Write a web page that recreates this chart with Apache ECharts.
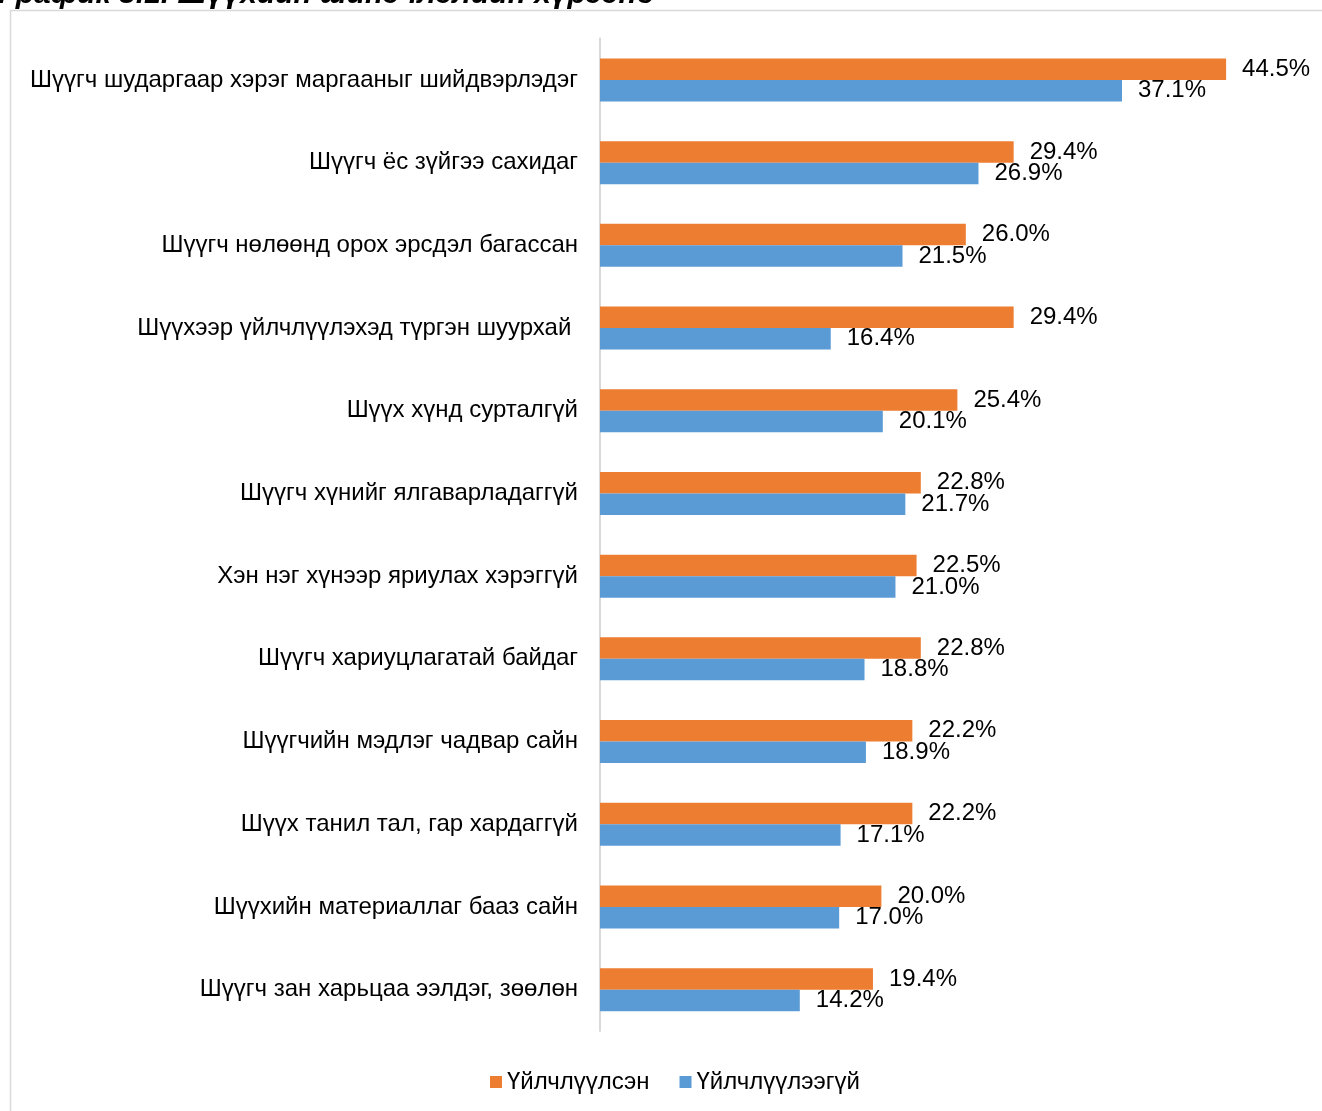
<!DOCTYPE html>
<html>
<head>
<meta charset="utf-8">
<script src="https://cdn.jsdelivr.net/npm/echarts@6/dist/echarts.min.js"></script>
<style>html,body{margin:0;padding:0;background:#fff;}#c{width:1322px;height:1111px;}</style>
</head>
<body>
<div id="c"></div>
<script>
const titleText = 'График 3.1. Шүүхийн шинэчлэлийн хүрээнд';
const categories = [
  'Шүүгч шударгаар хэрэг маргааныг шийдвэрлэдэг',
  'Шүүгч ёс зүйгээ сахидаг',
  'Шүүгч нөлөөнд орох эрсдэл багассан',
  'Шүүхээр үйлчлүүлэхэд түргэн шуурхай ',
  'Шүүх хүнд сурталгүй',
  'Шүүгч хүнийг ялгаварладаггүй',
  'Хэн нэг хүнээр яриулах хэрэггүй',
  'Шүүгч хариуцлагатай байдаг',
  'Шүүгчийн мэдлэг чадвар сайн',
  'Шүүх танил тал, гар хардаггүй',
  'Шүүхийн материаллаг бааз сайн',
  'Шүүгч зан харьцаа ээлдэг, зөөлөн'
];
const seriesNames = ['Үйлчлүүлсэн', 'Үйлчлүүлээгүй'];
const usedValues = [44.5, 29.4, 26.0, 29.4, 25.4, 22.8, 22.5, 22.8, 22.2, 22.2, 20.0, 19.4];
const notUsedValues = [37.1, 26.9, 21.5, 16.4, 20.1, 21.7, 21.0, 18.8, 18.9, 17.1, 17.0, 14.2];

const chart = echarts.init(document.getElementById('c'), null, {renderer: 'canvas'});
const FONT = 'Liberation Sans, Arial, sans-serif';
const labelCfg = {
  show: true, position: 'right', distance: 16,
  formatter: p => p.value.toFixed(1) + '%',
  color: '#000', fontSize: 24, fontFamily: FONT
};
chart.setOption({
  animation: false,
  textStyle: {fontFamily: FONT},
  graphic: [
    {type: 'rect', shape: {x: 10.5, y: 10.5, width: 1330, height: 1120}, style: {fill: 'none', stroke: '#d9d9d9', lineWidth: 1.5}, silent: true},
    {type: 'text', x: -2, y: -5, style: {text: titleText, font: 'italic bold 30px ' + FONT, fill: '#000', verticalAlign: 'middle'}, silent: true}
  ],
  legend: {
    bottom: 12, left: 485,
    itemWidth: 12, itemHeight: 12, itemGap: 30,
    icon: 'rect',
    textStyle: {fontSize: 24, color: '#000', fontFamily: FONT},
    data: seriesNames
  },
  grid: {left: 600, top: 38.6, width: 703.5, height: 992.4, containLabel: false},
  xAxis: {
    type: 'value', min: 0, max: 50, show: false
  },
  yAxis: {
    type: 'category', inverse: true, data: categories,
    axisLine: {show: true, lineStyle: {color: '#d9d9d9', width: 2}},
    axisTick: {show: false},
    axisLabel: {color: '#000', fontSize: 24, fontFamily: FONT, margin: 22, padding: [3, 0, 0, 0]}
  },
  series: [
    {name: seriesNames[0], type: 'bar', data: usedValues, barGap: '0%', barCategoryGap: '48%',
     itemStyle: {color: '#ED7D31'}, label: labelCfg},
    {name: seriesNames[1], type: 'bar', data: notUsedValues, barGap: '0%', barCategoryGap: '48%',
     itemStyle: {color: '#5B9BD5'}, label: labelCfg}
  ]
});
</script>
</body>
</html>
